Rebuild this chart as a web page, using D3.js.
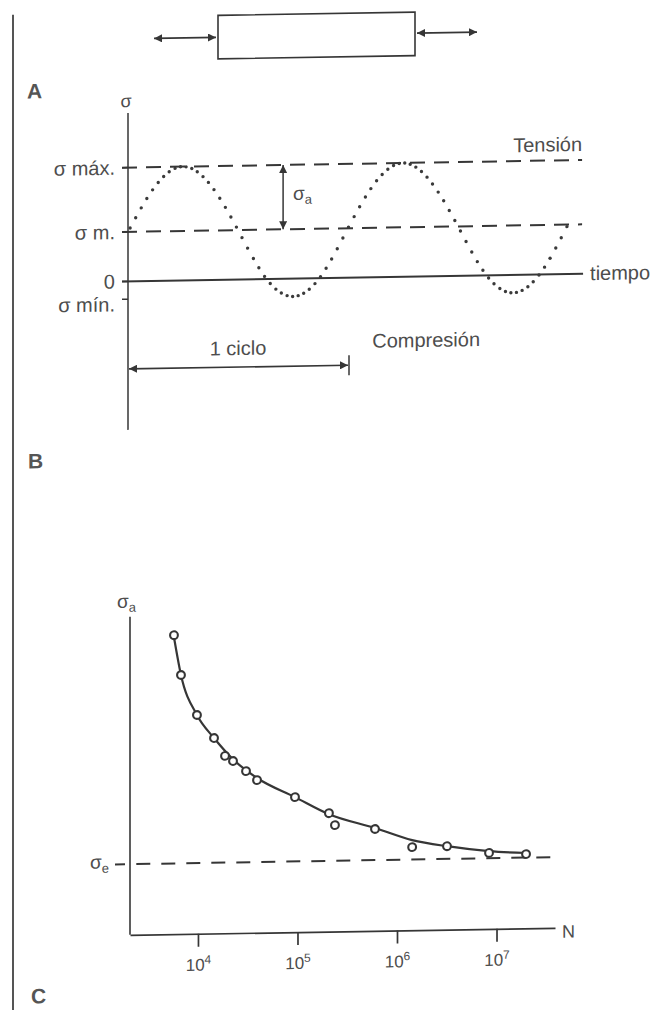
<!DOCTYPE html>
<html>
<head>
<meta charset="utf-8">
<script src="https://cdn.jsdelivr.net/npm/d3@7"></script>
<style>
body { margin: 0; background: #fff; }
svg { display: block; font-family: "Liberation Sans", Arial, Helvetica, sans-serif; }
</style>
</head>
<body>
<svg id="chart" width="654" height="1010"></svg>
<script>
// panel A - stress levels on the sigma axis
var levelLabels = ['σ máx.', 'σ m.', '0', 'σ mín.'];
var levelValues = [2.3, 1, 0, -0.36];

// panel A - the cyclic stress (time in cycles)
var waveTime   = [0, 0.125, 0.25, 0.375, 0.5, 0.625, 0.75, 0.875, 1, 1.125, 1.25, 1.375, 1.5, 1.625, 1.75, 1.875, 2];
var waveStress = [1, 1.92, 2.3, 1.92, 1, 0.03, -0.36, 0.03, 1, 1.92, 2.3, 1.92, 1, 0.03, -0.36, 0.03, 1];

// panel C - test points (cycles to failure, stress amplitude)
var testN      = [5740, 6750, 9770, 14500, 18700, 22500, 30400, 39200, 94400, 207000, 238000, 601000, 1420000, 3180000, 8410000, 19800000];
var testStress = [846, 733, 619, 553, 502, 487, 458, 432, 382, 335, 301, 288, 235, 236, 215, 210];

// panel C - the fitted S-N curve
var fitN      = [5740, 6750, 9770, 14500, 22500, 39200, 94400, 207000, 601000, 1420000, 3180000, 8410000, 20000000];
var fitStress = [840, 733, 619, 553, 492, 438, 382, 332, 291, 255, 236, 220, 213];

var enduranceStress = 200;
var decades   = [1e4, 1e5, 1e6, 1e7];
var decadeExp = ['4', '5', '6', '7'];

var ink = '#363636', textInk = '#4d4d4d';

var svg = d3.select('#chart');

// arrow head used by every double arrow
svg.append('defs').append('marker')
    .attr('id', 'ah')
    .attr('viewBox', '0 0 10 10')
    .attr('refX', 10).attr('refY', 5)
    .attr('markerUnits', 'userSpaceOnUse')
    .attr('markerWidth', 10).attr('markerHeight', 8)
    .attr('orient', 'auto-start-reverse')
  .append('path')
    .attr('d', 'M0,0L10,5L0,10z')
    .attr('fill', ink);

// the scanned page is slightly sheared
var g = svg.append('g').attr('transform', 'skewY(-0.95)');

// left page border
g.append('line')
    .attr('x1', 13).attr('x2', 13).attr('y1', 15).attr('y2', 1012)
    .attr('stroke', '#555').attr('stroke-width', 2);

// top specimen with push-pull arrows
g.append('rect')
    .attr('x', 218).attr('y', 19).attr('width', 197).attr('height', 43.5)
    .attr('fill', 'none').attr('stroke', ink).attr('stroke-width', 1.6);
g.append('line')
    .attr('x1', 154).attr('x2', 216).attr('y1', 41).attr('y2', 41)
    .attr('stroke', ink).attr('stroke-width', 1.7)
    .attr('marker-start', 'url(#ah)').attr('marker-end', 'url(#ah)');
g.append('line')
    .attr('x1', 417).attr('x2', 477).attr('y1', 40).attr('y2', 40)
    .attr('stroke', ink).attr('stroke-width', 1.7)
    .attr('marker-start', 'url(#ah)').attr('marker-end', 'url(#ah)');

function panelLetter(txt, x, y) {
    g.append('text')
        .attr('x', x).attr('y', y)
        .attr('font-size', 21).attr('font-weight', 'bold')
        .attr('fill', '#555')
        .text(txt);
}
panelLetter('A', 27, 99);
panelLetter('B', 28, 469);
panelLetter('C', 31, 1004);

////////////////////////////// panel A

var xA = d3.scaleLinear().domain([0, 1]).range([128, 348]);
var yA = d3.scaleLinear().domain([0, 1]).range([283.5, 234]);
var tEnd = 2.064;

var gA = g.append('g');

// sigma axis
gA.append('line')
    .attr('x1', xA(0)).attr('x2', xA(0))
    .attr('y1', yA(3.4)).attr('y2', yA(-3))
    .attr('stroke', ink).attr('stroke-width', 1.5);
gA.append('text')
    .attr('x', xA(0) - 2).attr('y', yA(3.4) - 6)
    .attr('text-anchor', 'middle')
    .attr('font-size', 18).attr('fill', textInk)
    .text('σ');

// level ticks
gA.selectAll('.lvtick')
    .data(levelValues)
    .enter()
    .append('line')
    .attr('x1', xA(0) - 6).attr('x2', xA(0))
    .attr('y1', function(d){ return yA(d); })
    .attr('y2', function(d){ return yA(d); })
    .attr('stroke', ink).attr('stroke-width', 1.5);

// level labels
gA.selectAll('.lvlabel')
    .data(levelLabels)
    .enter()
    .append('text')
    .attr('x', xA(0) - 13)
    .attr('y', function(d, i){ return yA(levelValues[i]) + (i == 3 ? 5 : 0); })
    .attr('dy', '0.35em')
    .attr('text-anchor', 'end')
    .attr('font-size', 20).attr('fill', textInk)
    .text(function(d){ return d; });

// max and mean stress (dashed)
gA.selectAll('.dash')
    .data([levelValues[0], levelValues[1]])
    .enter()
    .append('line')
    .attr('x1', xA(0) - 6).attr('x2', xA(tEnd))
    .attr('y1', function(d){ return yA(d); })
    .attr('y2', function(d){ return yA(d); })
    .attr('stroke', ink).attr('stroke-width', 2)
    .attr('stroke-dasharray', '15,9');

// time axis (zero stress)
gA.append('line')
    .attr('x1', xA(0) - 6).attr('x2', xA(tEnd) + 1)
    .attr('y1', yA(0)).attr('y2', yA(0))
    .attr('stroke', ink).attr('stroke-width', 2);

// the dotted wave: sample the curve at equal time steps
var wave = d3.zip(waveTime, waveStress);
var wavePath = gA.append('path')
    .attr('d', d3.line()
        .x(function(d){ return xA(d[0]); })
        .y(function(d){ return yA(d[1]); })
        .curve(d3.curveNatural)(wave))
    .attr('fill', 'none').attr('stroke', 'none');

var node = wavePath.node(), L = node.getTotalLength(), dots = [], next = xA(0) + 2;
for (var s = 0; s <= L; s += 0.4) {
    var p = node.getPointAtLength(s);
    if (p.x >= next) { dots.push(p); next += 5.6; }
}
gA.selectAll('.dot')
    .data(dots)
    .enter()
    .append('circle')
    .attr('cx', function(d){ return d.x; })
    .attr('cy', function(d){ return d.y; })
    .attr('r', 1.7)
    .attr('fill', '#3a3a3a');

// amplitude arrow
var tAmp = 0.705;
gA.append('line')
    .attr('x1', xA(tAmp)).attr('x2', xA(tAmp))
    .attr('y1', yA(levelValues[0])).attr('y2', yA(levelValues[1]))
    .attr('stroke', ink).attr('stroke-width', 1.5)
    .attr('marker-start', 'url(#ah)').attr('marker-end', 'url(#ah)');
var sa = gA.append('text')
    .attr('x', xA(tAmp) + 10)
    .attr('y', yA((levelValues[0] + levelValues[1]) / 2) + 3)
    .attr('font-size', 19).attr('fill', textInk);
sa.append('tspan').text('σ');
sa.append('tspan').attr('font-size', 13).attr('dy', 4).text('a');

gA.append('text')
    .attr('x', xA(tEnd)).attr('y', yA(levelValues[0]) - 9)
    .attr('text-anchor', 'end')
    .attr('font-size', 20).attr('fill', textInk)
    .text('Tensión');
gA.append('text')
    .attr('x', xA(tEnd) + 8).attr('y', yA(0) + 6.5)
    .attr('font-size', 20).attr('fill', textInk)
    .text('tiempo');

// one cycle
var yCyc = 371;
gA.append('line')
    .attr('x1', xA(0) + 1).attr('x2', xA(1))
    .attr('y1', yCyc).attr('y2', yCyc)
    .attr('stroke', ink).attr('stroke-width', 1.7)
    .attr('marker-start', 'url(#ah)').attr('marker-end', 'url(#ah)');
gA.append('line')
    .attr('x1', xA(1) + 1).attr('x2', xA(1) + 1)
    .attr('y1', yCyc - 10).attr('y2', yCyc + 10)
    .attr('stroke', ink).attr('stroke-width', 1.5);
gA.append('text')
    .attr('x', xA(0.5)).attr('y', yCyc - 12)
    .attr('text-anchor', 'middle')
    .attr('font-size', 20).attr('fill', textInk)
    .text('1 ciclo');
gA.append('text')
    .attr('x', xA(1.11)).attr('y', 354)
    .attr('font-size', 20).attr('fill', textInk)
    .text('Compresión');

////////////////////////////// panel C

var xC = d3.scaleLog().domain([2075, 3.87e7]).range([130, 555]);
var yC = d3.scaleLinear().domain([0, 900]).range([937, 619]);

var gC = g.append('g');

// N axis
var axC = gC.append('g')
    .attr('transform', 'translate(0,' + yC(0) + ')')
    .call(d3.axisBottom(xC).tickValues(decades).tickSize(13).tickSizeOuter(0).tickFormat(''));
axC.selectAll('path, line').attr('stroke', ink).attr('stroke-width', 1.7);

axC.selectAll('.tick')
    .append('text')
    .attr('y', 37).attr('x', 0)
    .attr('text-anchor', 'middle')
    .attr('fill', textInk).attr('font-size', 17)
    .each(function(d, i){
        var t = d3.select(this);
        t.append('tspan').text('10');
        t.append('tspan').attr('font-size', 12).attr('dy', -7).text(decadeExp[i]);
    });

gC.append('text')
    .attr('x', 562).attr('y', yC(0) + 10)
    .attr('font-size', 18).attr('fill', textInk)
    .text('N');

// stress amplitude axis
gC.append('line')
    .attr('x1', xC(2075)).attr('x2', xC(2075))
    .attr('y1', yC(0)).attr('y2', yC(900))
    .attr('stroke', ink).attr('stroke-width', 1.6);
var lab = gC.append('text')
    .attr('x', 117).attr('y', yC(900) - 9)
    .attr('font-size', 19).attr('fill', textInk);
lab.append('tspan').text('σ');
lab.append('tspan').attr('font-size', 13).attr('dy', 4).text('a');

// endurance limit
gC.append('line')
    .attr('x1', xC(2400)).attr('x2', xC(3.5e7))
    .attr('y1', yC(enduranceStress)).attr('y2', yC(enduranceStress))
    .attr('stroke', ink).attr('stroke-width', 2)
    .attr('stroke-dasharray', '14,11');
gC.append('line')
    .attr('x1', 115).attr('x2', 125)
    .attr('y1', yC(enduranceStress)).attr('y2', yC(enduranceStress))
    .attr('stroke', ink).attr('stroke-width', 2);
var le = gC.append('text')
    .attr('x', 90).attr('y', yC(enduranceStress) + 4)
    .attr('font-size', 19).attr('fill', textInk);
le.append('tspan').text('σ');
le.append('tspan').attr('font-size', 13).attr('dy', 4).text('e');

// fitted curve
gC.append('path')
    .attr('d', d3.line()
        .x(function(d){ return xC(d[0]); })
        .y(function(d){ return yC(d[1]); })
        .curve(d3.curveMonotoneX)(d3.zip(fitN, fitStress)))
    .attr('fill', 'none').attr('stroke', ink).attr('stroke-width', 2.2);

// test points
gC.selectAll('circle')
    .data(d3.zip(testN, testStress))
    .enter()
    .append('circle')
    .attr('cx', function(d){ return xC(d[0]); })
    .attr('cy', function(d){ return yC(d[1]); })
    .attr('r', 3.9)
    .attr('fill', '#fff')
    .attr('stroke', ink).attr('stroke-width', 2.1);
</script>
</body>
</html>
